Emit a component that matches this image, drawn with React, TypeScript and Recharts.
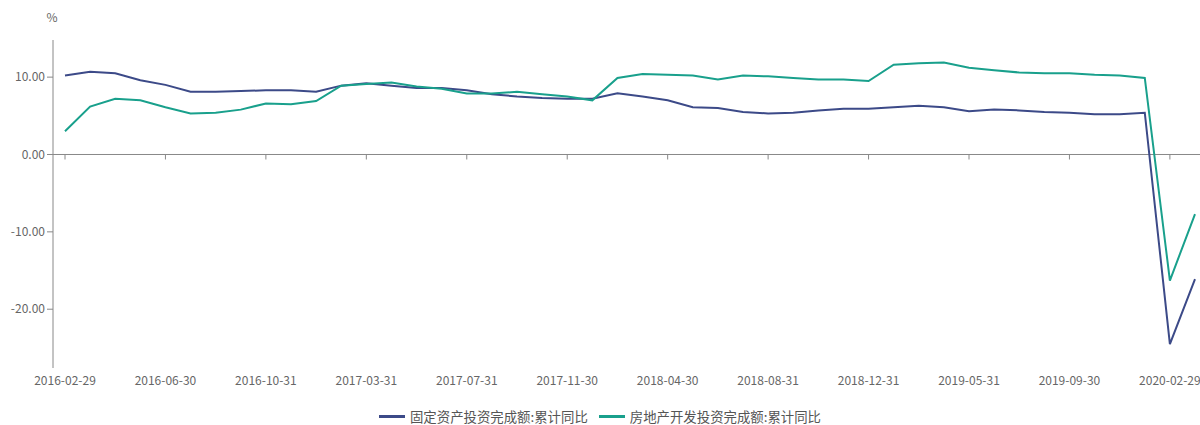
import React from 'react';
import { LineChart, Line, XAxis, YAxis, ReferenceLine, Legend } from 'recharts';

const dates = [
  '2016-02-29', '2016-03-31', '2016-04-30', '2016-05-31', '2016-06-30', '2016-07-31',
  '2016-08-31', '2016-09-30', '2016-10-31', '2016-11-30', '2016-12-31',
  '2017-02-28', '2017-03-31', '2017-04-30', '2017-05-31', '2017-06-30', '2017-07-31',
  '2017-08-31', '2017-09-30', '2017-10-31', '2017-11-30', '2017-12-31',
  '2018-02-28', '2018-03-31', '2018-04-30', '2018-05-31', '2018-06-30', '2018-07-31',
  '2018-08-31', '2018-09-30', '2018-10-31', '2018-11-30', '2018-12-31',
  '2019-02-28', '2019-03-31', '2019-04-30', '2019-05-31', '2019-06-30', '2019-07-31',
  '2019-08-31', '2019-09-30', '2019-10-31', '2019-11-30', '2019-12-31',
  '2020-02-29', '2020-03-31',
];

const fixedAsset = [
  10.2, 10.7, 10.5, 9.6, 9.0, 8.1, 8.1, 8.2, 8.3, 8.3, 8.1,
  8.9, 9.2, 8.9, 8.6, 8.6, 8.3, 7.8, 7.5, 7.3, 7.2, 7.2,
  7.9, 7.5, 7.0, 6.1, 6.0, 5.5, 5.3, 5.4, 5.7, 5.9, 5.9,
  6.1, 6.3, 6.1, 5.6, 5.8, 5.7, 5.5, 5.4, 5.2, 5.2, 5.4,
  -24.5, -16.1,
];

const realEstate = [
  3.0, 6.2, 7.2, 7.0, 6.1, 5.3, 5.4, 5.8, 6.6, 6.5, 6.9,
  8.9, 9.1, 9.3, 8.8, 8.5, 7.9, 7.9, 8.1, 7.8, 7.5, 7.0,
  9.9, 10.4, 10.3, 10.2, 9.7, 10.2, 10.1, 9.9, 9.7, 9.7, 9.5,
  11.6, 11.8, 11.9, 11.2, 10.9, 10.6, 10.5, 10.5, 10.3, 10.2, 9.9,
  -16.3, -7.7,
];

const yTicks = [-20, -10, 0, 10];
const yMin = -27.6;
const yMax = 14.8;

const SERIES = [
  { key: 'fixedAsset', name: '固定资产投资完成额:累计同比', color: '#3c4a88' },
  { key: 'realEstate', name: '房地产开发投资完成额:累计同比', color: '#19a08c' },
];

const data = dates.map((d, i) => ({ date: d, fixedAsset: fixedAsset[i], realEstate: realEstate[i] }));

const FONT = '"Noto Sans CJK SC", "Noto Sans", sans-serif';
const MARGIN = { top: 40, right: 0, left: 0, bottom: 0 };
const WIDTH = 1200;
const HEIGHT = 425;
const X_HEIGHT = 30;
const LEGEND_H = 27;
const plotH = HEIGHT - MARGIN.top - MARGIN.bottom - X_HEIGHT - LEGEND_H;
const zeroY = MARGIN.top + (plotH * yMax) / (yMax - yMin);

const DateTick = (props: any) => {
  const { x, y, payload } = props;
  return (
    <g>
      <line x1={x} x2={x} y1={zeroY} y2={zeroY + 5} stroke="#888" />
      <text x={x} y={y} dy="0.71em" textAnchor="middle" fill="#666" fontSize={12} fontFamily={FONT}>
        {payload.value}
      </text>
    </g>
  );
};

const LegendContent = () => (
  <div
    style={{
      display: 'flex',
      justifyContent: 'center',
      alignItems: 'center',
      paddingTop: 9,
      height: 18,
      lineHeight: '18px',
      fontFamily: FONT,
      fontSize: 13.4,
      color: '#555',
    }}
  >
    {SERIES.map((s, i) => (
      <div key={s.key} style={{ display: 'flex', alignItems: 'center', marginLeft: i ? 11 : 0 }}>
        <span style={{ display: 'inline-block', width: 26, height: 3, background: s.color, marginRight: 5 }} />
        <span style={{ whiteSpace: 'nowrap' }}>{s.name}</span>
      </div>
    ))}
  </div>
);

export default function App() {
  return (
    <div style={{ position: 'absolute', left: 0, top: 0, width: WIDTH, height: HEIGHT, background: '#fff' }}>
      <LineChart width={WIDTH} height={HEIGHT} data={data} margin={MARGIN}>
        <XAxis
          dataKey="date"
          interval={3}
          height={X_HEIGHT}
          axisLine={false}
          tickLine={false}
          padding={{ left: 12, right: 5 }}
          tick={<DateTick />}
        />
        <YAxis
          width={53}
          domain={[yMin, yMax]}
          ticks={yTicks}
          allowDataOverflow
          stroke="#888"
          tick={{ fill: '#666', fontSize: 12, fontFamily: FONT }}
          tickFormatter={(v: number) => v.toFixed(2)}
          label={{
            content: (p: any) => (
              <text
                x={p.viewBox.x + p.viewBox.width - 1}
                y={p.viewBox.y - 18}
                textAnchor="middle"
                fill="#666"
                fontSize={12}
                fontFamily={FONT}
              >
                %
              </text>
            ),
          }}
        />
        <ReferenceLine y={0} stroke="#888" ifOverflow="extendDomain" />
        {SERIES.map((s) => (
          <Line
            key={s.key}
            type="linear"
            dataKey={s.key}
            name={s.name}
            stroke={s.color}
            strokeWidth={2}
            dot={false}
            activeDot={false}
            isAnimationActive={false}
          />
        ))}
        <Legend height={LEGEND_H} verticalAlign="bottom" content={<LegendContent />} />
      </LineChart>
    </div>
  );
}
